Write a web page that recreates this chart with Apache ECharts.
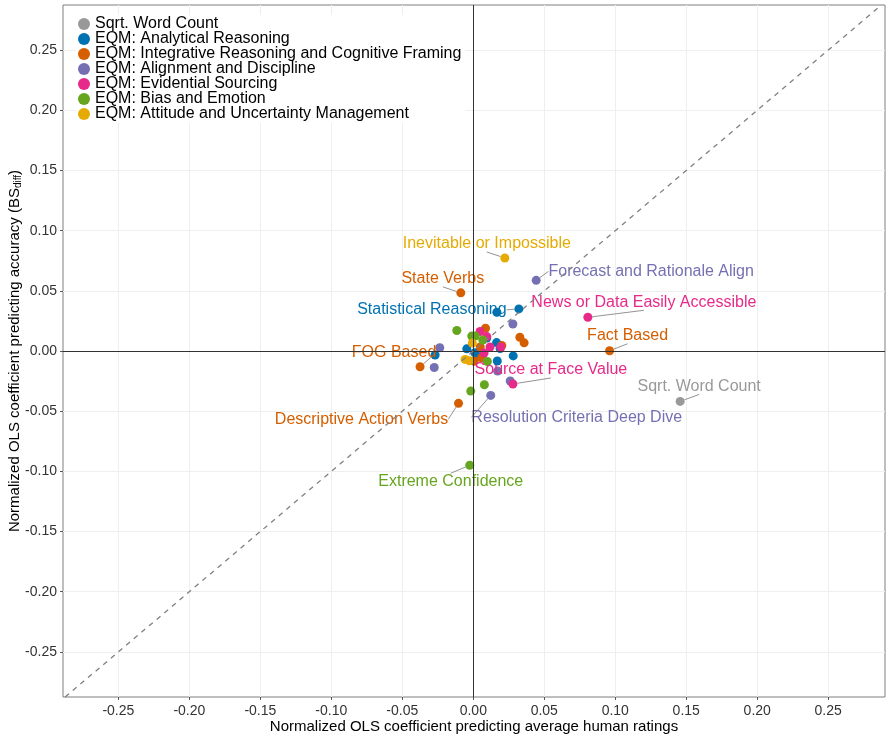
<!DOCTYPE html>
<html>
<head>
<meta charset="utf-8">
<script src="https://cdn.jsdelivr.net/npm/echarts@6/dist/echarts.min.js"></script>
<style>
html,body{margin:0;padding:0;background:#fff;}
#ols_scatter{width:893px;height:738px;}
</style>
</head>
<body>
<div id="ols_scatter"></div>
<script>
// categories (legend order) and colours
var groupNames = ['Sqrt. Word Count', 'EQM: Analytical Reasoning', 'EQM: Integrative Reasoning and Cognitive Framing',
	'EQM: Alignment and Discipline', 'EQM: Evidential Sourcing', 'EQM: Bias and Emotion', 'EQM: Attitude and Uncertainty Management'];
var groupColors = ['#999999', '#0072B2', '#D55E00', '#7570B3', '#E7298A', '#66A61E', '#E6AB02'];

// x = coefficient on human ratings, y = coefficient on accuracy
var wordX = [0.1457];
var wordY = [-0.0419];
var wordLbl = ['Sqrt. Word Count'];

var analyticX = [0.0321, 0.0166, 0.0095, 0.0164, 0.0189, -0.0046, -0.0269, 0.0011, 0.0281, 0.0169, 0.0032];
var analyticY = [0.0350, 0.0322, 0.0108, 0.0070, 0.0021, 0.0018, -0.0033, -0.0015, -0.0041, -0.0083, -0.0046];
var analyticLbl = ['Statistical Reasoning', '', '', '', '', '', '', '', '', '', ''];

var integrX = [-0.0088, 0.0086, 0.0328, 0.0358, 0.0201, 0.0049, 0.0058, 0.0006, 0.0960, -0.0375, -0.0104];
var integrY = [0.0483, 0.0189, 0.0114, 0.0068, 0.0046, 0.0033, -0.0056, -0.0085, 0.0002, -0.0131, -0.0435];
var integrLbl = ['State Verbs', '', '', '', '', '', '', '', 'Fact Based', 'FOG Based', 'Descriptive Action Verbs'];

var alignX = [0.0443, 0.0279, -0.0236, -0.0275, 0.0171, 0.0260, 0.0123];
var alignY = [0.0587, 0.0224, 0.0027, -0.0137, -0.0167, -0.0249, -0.0369];
var alignLbl = ['Forecast and Rationale Align', '', '', '', '', '', 'Resolution Criteria Deep Dive'];

var evidX = [0.0807, 0.0048, 0.0118, 0.0194, 0.0076, 0.0279, 0.0095];
var evidY = [0.0280, 0.0162, 0.0033, 0.0033, -0.0017, -0.0274, 0.0120];
var evidLbl = ['News or Data Easily Accessible', '', '', '', '', 'Source at Face Value', ''];

var biasX = [-0.0116, -0.0011, 0.0014, 0.0067, 0.0099, 0.0078, -0.0018, -0.0025];
var biasY = [0.0170, 0.0124, 0.0124, 0.0091, -0.0087, -0.0280, -0.0333, -0.0949];
var biasLbl = ['', '', '', '', '', '', '', 'Extreme Confidence'];

var attitX = [0.0222, -0.0007, -0.0058, -0.0027];
var attitY = [0.0773, 0.0066, -0.0070, -0.0081];
var attitLbl = ['Inevitable or Impossible', '', '', ''];

var tickValues = [-0.25, -0.20, -0.15, -0.10, -0.05, 0, 0.05, 0.10, 0.15, 0.20, 0.25];

// where each text label sits relative to its point (px)
var labelShift = {
	'Sqrt. Word Count': [19, -15],
	'Statistical Reasoning': [-87, 1],
	'State Verbs': [-18, -14],
	'Fact Based': [18, -15],
	'FOG Based': [-26, -14],
	'Descriptive Action Verbs': [-97, 16],
	'Forecast and Rationale Align': [115, -9],
	'Resolution Criteria Deep Dive': [86, 22],
	'News or Data Easily Accessible': [56, -15],
	'Source at Face Value': [38, -14],
	'Extreme Confidence': [-19, 16],
	'Inevitable or Impossible': [-18, -14]
};

var FONT = '"Liberation Sans", Arial, Helvetica, sans-serif';

function buildData(xs, ys, lbls){
	var out = [];
	for(var i=0;i<xs.length;i++){
		out.push({
			value: [xs[i], ys[i]],
			name: lbls[i],
			label: {show: lbls[i] !== ''}
		});
	}
	return out;
}

var groups = [
	[wordX, wordY, wordLbl],
	[analyticX, analyticY, analyticLbl],
	[integrX, integrY, integrLbl],
	[alignX, alignY, alignLbl],
	[evidX, evidY, evidLbl],
	[biasX, biasY, biasLbl],
	[attitX, attitY, attitLbl]
];

var seriesList = [];
for(var g=0;g<groups.length;g++){
	var s = {
		name: groupNames[g],
		type: 'scatter',
		symbol: 'circle',
		symbolSize: 9,
		itemStyle: {color: groupColors[g], opacity: 1},
		label: {
			position: 'inside',
			formatter: '{b}',
			color: groupColors[g],
			fontFamily: FONT,
			fontSize: 16
		},
		labelLine: {show: true, lineStyle: {color: '#777', width: 0.8}},
		labelLayout: function(p){
			var off = labelShift[p.text];
			if(!off){ return {}; }
			return {dx: off[0], dy: off[1]};
		},
		emphasis: {disabled: true},
		z: 3,
		data: buildData(groups[g][0], groups[g][1], groups[g][2])
	};
	seriesList.push(s);
}

// reference lines: zero axes and the dashed identity line
seriesList.push({
	name: 'refLines',
	type: 'scatter',
	data: [],
	silent: true,
	z: 1,
	markLine: {
		silent: true,
		symbol: ['none', 'none'],
		label: {show: false},
		animation: false,
		data: [
			{xAxis: 0, lineStyle: {color: '#333', width: 1, type: 'solid'}},
			{yAxis: 0, lineStyle: {color: '#333', width: 1, type: 'solid'}},
			[
				{coord: [-0.2875, -0.2875], lineStyle: {color: '#808080', width: 1.3, type: [5, 5]}},
				{coord: [0.2875, 0.2875]}
			]
		]
	}
});

var myChart = echarts.init(document.getElementById('ols_scatter'));
var option = {
	backgroundColor: '#fff',
	animation: false,
	textStyle: {fontFamily: FONT},
	grid: {
		left: 63, right: 8, top: 5, bottom: 41,
		containLabel: false, outerBoundsMode: 'none',
		show: true, borderColor: '#7f7f7f', borderWidth: 1, backgroundColor: '#fff'
	},
	legend: {
		orient: 'vertical',
		left: 76, top: 15,
		padding: [1, 4, 1, 2],
		backgroundColor: '#fff',
		icon: 'circle',
		itemWidth: 12, itemHeight: 12,
		itemGap: -1,
		data: groupNames,
		textStyle: {fontFamily: FONT, fontSize: 16, color: '#000', lineHeight: 15}
	},
	xAxis: {
		type: 'value',
		min: -0.289, max: 0.29,
		name: 'Normalized OLS coefficient predicting average human ratings',
		nameLocation: 'middle',
		nameGap: 22,
		nameMoveOverlap: false,
		nameTextStyle: {fontFamily: FONT, fontSize: 15, color: '#000'},
		axisLine: {show: false, onZero: false},
		axisTick: {show: true, length: 3, lineStyle: {color: '#555'}, customValues: tickValues},
		axisLabel: {customValues: tickValues, fontFamily: FONT, fontSize: 14, color: '#333', margin: 7,
			formatter: function(v){ return v.toFixed(2); }},
		splitLine: {show: true, lineStyle: {color: '#efefef', width: 1}}
	},
	yAxis: {
		type: 'value',
		min: -0.2875, max: 0.2875,
		name: 'Normalized OLS coefficient predicting accuracy (BS{s|diff})',
		nameLocation: 'middle',
		nameGap: 40,
		nameMoveOverlap: false,
		nameTextStyle: {fontFamily: FONT, fontSize: 15, color: '#000',
			rich: {s: {fontFamily: FONT, fontSize: 10, color: '#000', verticalAlign: 'bottom', padding: [7, 0, 0, 0]}}},
		axisLine: {show: false, onZero: false},
		axisTick: {show: true, length: 3, lineStyle: {color: '#555'}, customValues: tickValues},
		axisLabel: {customValues: tickValues, fontFamily: FONT, fontSize: 14, color: '#333', margin: 6,
			formatter: function(v){ return v.toFixed(2); }},
		splitLine: {show: true, lineStyle: {color: '#efefef', width: 1}}
	},
	series: seriesList
};
myChart.setOption(option);
</script>
</body>
</html>
